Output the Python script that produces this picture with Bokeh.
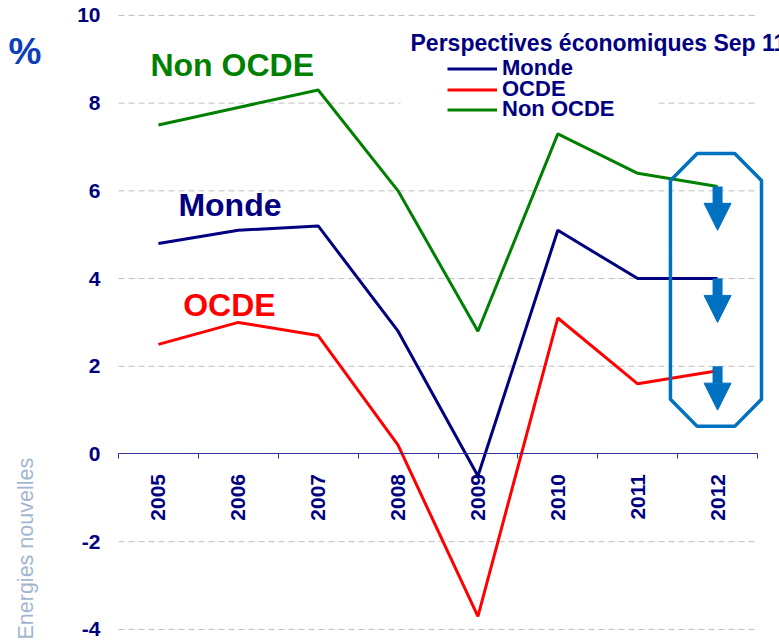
import math
from bokeh.plotting import figure
from bokeh.models import (Range1d, FixedTicker, Label, Legend, LegendItem,
                          Arrow, NormalHead, BoxAnnotation)
from bokeh.embed import file_html
from bokeh.resources import INLINE

# ---- data ----
years = ["2005", "2006", "2007", "2008", "2009", "2010", "2011", "2012"]
monde = [4.8, 5.1, 5.2, 2.8, -0.5, 5.1, 4.0, 4.0]
ocde = [2.5, 3.0, 2.7, 0.2, -3.7, 3.1, 1.6, 1.9]
non_ocde = [7.5, 7.9, 8.3, 6.0, 2.8, 7.3, 6.4, 6.1]
y_ticks = [-4, -2, 0, 2, 4, 6, 8, 10]
arrow_tops = [6.1, 4.0, 2.0]   # downward-revision arrows for 2012
arrow_drop = 1.0

NAVY = "#000080"
RED = "#FF0000"
GREEN = "#008000"
BLUE = "#0070C0"
FONT = "Liberation Sans"

n = len(years)
xs = [i + 0.5 for i in range(n)]

W, H = 779, 643
p = figure(width=W, height=H,
           x_range=Range1d(-1.4773, 8.2754), y_range=Range1d(-4.321, 10.34),
           output_backend="svg", toolbar_location=None,
           min_border_left=0, min_border_right=0,
           min_border_top=0, min_border_bottom=0)
p.outline_line_color = None
p.grid.visible = False

# dashed horizontal grid (within category span)
grid_vals = [v for v in y_ticks if v != 0]
p.segment(x0=[0] * len(grid_vals), x1=[n] * len(grid_vals),
          y0=grid_vals, y1=grid_vals,
          line_color="#BFBFBF", line_width=1, line_dash="6 4")

# y axis (placed at x = 0)
yax = p.yaxis[0]
yax.fixed_location = 0
yax.ticker = FixedTicker(ticks=y_ticks)
yax.major_label_overrides = {v: str(v) for v in y_ticks}
yax.axis_line_color = None
yax.major_tick_line_color = None
yax.minor_tick_line_color = None
yax.major_tick_out = 0
yax.major_tick_in = 0
yax.major_label_standoff = 18
yax.major_label_text_font = FONT
yax.major_label_text_font_style = "bold"
yax.major_label_text_font_size = "21px"
yax.major_label_text_color = NAVY

# x axis at y = 0
xax = p.xaxis[0]
xax.fixed_location = 0
xax.bounds = (0, n)
xax.ticker = FixedTicker(ticks=xs, minor_ticks=list(range(n + 1)))
xax.major_label_overrides = {x: y for x, y in zip(xs, years)}
xax.major_tick_out = 0
xax.major_tick_in = 0
xax.minor_tick_out = 5
xax.minor_tick_in = 0
xax.axis_line_color = "#333399"
xax.minor_tick_line_color = "#333399"
xax.major_label_orientation = math.pi / 2
xax.major_label_standoff = 15
xax.major_label_text_font = FONT
xax.major_label_text_font_style = "bold"
xax.major_label_text_font_size = "21px"
xax.major_label_text_color = NAVY

# series lines
r_monde = p.line(xs, monde, line_color=NAVY, line_width=3)
r_ocde = p.line(xs, ocde, line_color=RED, line_width=3)
r_non = p.line(xs, non_ocde, line_color=GREEN, line_width=3)

# highlight octagon around 2012
cx, cy = 7.48, 3.74
hw, hh, c1, c2 = 0.57, 3.11, 0.335, 0.616
oct_x = [cx - hw + c1, cx + hw - c1, cx + hw, cx + hw, cx + hw - c1, cx - hw + c1, cx - hw, cx - hw]
oct_y = [cy + hh, cy + hh, cy + hh - c2, cy - hh + c2, cy - hh, cy - hh, cy - hh + c2, cy + hh - c2]
p.patch(oct_x, oct_y, fill_alpha=0, line_color=BLUE, line_width=3.5)

for top in arrow_tops:
    p.add_layout(Arrow(x_start=xs[-1], y_start=top, x_end=xs[-1], y_end=top - arrow_drop,
                       line_color=BLUE, line_width=10,
                       end=NormalHead(size=27, fill_color=BLUE, line_color=BLUE, line_width=1)))

# series labels on the chart
for txt, x, y, col in [("Non OCDE", 0.40, 8.86, GREEN), ("Monde", 0.75, 5.67, NAVY),
                       ("OCDE", 0.81, 3.39, RED)]:
    p.add_layout(Label(x=x, y=y, text=txt, text_color=col, text_font=FONT,
                       text_font_style="bold", text_font_size="32px",
                       text_baseline="alphabetic"))

# % unit and side text
p.add_layout(Label(x=-1.377, y=9.18, text="%", text_color="#0D3FB8", text_font=FONT,
                   text_font_style="bold", text_font_size="37px", text_baseline="alphabetic"))
p.add_layout(Label(x=-1.152, y=-4.23, text="Energies nouvelles", text_color="#A3B6CF",
                   text_font=FONT, text_font_size="21.5px", angle=math.pi / 2,
                   text_baseline="alphabetic", text_align="left"))

# legend title + legend (white legend area, then one entry per row)
p.add_layout(BoxAnnotation(left=3.53, right=6.75, bottom=7.56, top=8.97,
                           fill_color="white", fill_alpha=1.0, line_color=None))
p.add_layout(Label(x=3.656, y=9.36, text="Perspectives économiques Sep 11", text_color=NAVY,
                   text_font=FONT, text_font_style="bold", text_font_size="23px",
                   text_baseline="alphabetic"))
legend_rows = [("Monde", r_monde, 72), ("OCDE", r_ocde, 93), ("Non OCDE", r_non, 113)]
for label, rend, row_center in legend_rows:
    p.add_layout(Legend(items=[LegendItem(label=label, renderers=[rend])],
                        location=(447, H - (row_center + 9)), orientation="vertical",
                        glyph_width=50, glyph_height=21, label_height=21,
                        label_standoff=5, spacing=0, padding=0, margin=0,
                        border_line_color=None, background_fill_alpha=0.0,
                        label_text_font=FONT, label_text_font_style="bold",
                        label_text_font_size="22px", label_text_color=NAVY))

open("out.html", "w").write(file_html(p, INLINE))
